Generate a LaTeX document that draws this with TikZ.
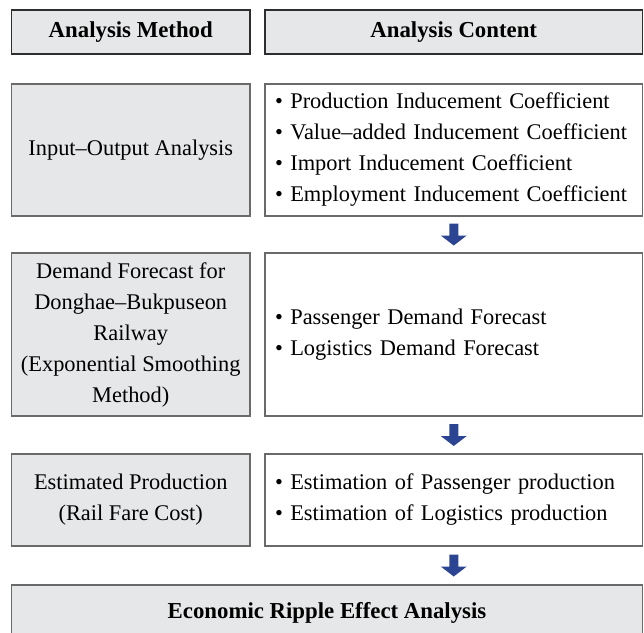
\documentclass[tikz,border=0pt]{standalone}
\usepackage{fontspec}
\setmainfont{Liberation Serif}
\usetikzlibrary{calc}
\definecolor{boxgray}{HTML}{E6E7E9}
\definecolor{edgegray}{HTML}{6A6A6A}
\definecolor{edgedark}{HTML}{2E2E2E}
\definecolor{arrowblue}{HTML}{2B4592}
\tikzset{
  base/.style={anchor=north west, inner sep=0pt, outer sep=0pt,
    font=\fontsize{22.4}{31}\selectfont},
  headbox/.style={base, draw=edgedark, line width=1.8pt, fill=boxgray,
    font=\fontsize{22.8}{31}\selectfont\bfseries},
  methodbox/.style={base, draw=edgegray, line width=1.5pt, fill=boxgray,
    align=center},
  contentbox/.style={base, draw=edgegray, line width=1.5pt, fill=white,
    align=left, inner xsep=10pt},
  flowarrow/.style={fill=arrowblue},
}
\begin{document}
\begin{tikzpicture}[x=1pt, y=-1pt]
\useasboundingbox (0,0) rectangle (644,632);
% column headers
\node[headbox, minimum width=238.5pt, minimum height=44pt] (hm) at (11.5,10) {Analysis Method};
\node[headbox, minimum width=377.5pt, minimum height=44pt] (hc) at (265,10) {Analysis Content};
% step 1
\node[methodbox, minimum width=238.5pt, minimum height=132pt] (m1) at (11.5,84) {Input–Output Analysis};
\node[contentbox, minimum width=377.5pt, minimum height=132pt, text width=357.5pt] (c1) at (265,84)
  {• Production Inducement Coefficient\\
   • Value–added Inducement Coefficient\\
   • Import Inducement Coefficient\\
   • Employment Inducement Coefficient};
% step 2
\node[methodbox, minimum width=238.5pt, minimum height=163pt] (m2) at (11.5,253)
  {Demand Forecast for\\ Donghae–Bukpuseon\\ Railway\\ (Exponential Smoothing\\ Method)};
\node[contentbox, minimum width=377.5pt, minimum height=163pt, text width=357.5pt] (c2) at (265,253)
  {• Passenger Demand Forecast\\
   • Logistics Demand Forecast};
% step 3
\node[methodbox, minimum width=238.5pt, minimum height=92pt] (m3) at (11.5,454)
  {Estimated Production\\ (Rail Fare Cost)};
\node[contentbox, minimum width=377.5pt, minimum height=92pt, text width=357.5pt] (c3) at (265,454)
  {• Estimation of Passenger production\\
   • Estimation of Logistics production};
% result
\node[methodbox, minimum width=631pt, minimum height=56pt, font=\fontsize{22.8}{31}\selectfont\bfseries] (total) at (11.5,585)
  {Economic Ripple Effect Analysis};
% block arrows between the content boxes
\foreach \a/\b in {c1/c2, c2/c3, c3/total}
  \fill[flowarrow] ($(\a.south)!0.5!(\a.south |- \b.north)$) ++(-4.5,-11) -- ++(9,0) -- ++(0,12)
    -- ++(8.5,0) -- ++(-13,10) -- ++(-13,-10) -- ++(8.5,0) -- cycle;
\end{tikzpicture}
\end{document}
